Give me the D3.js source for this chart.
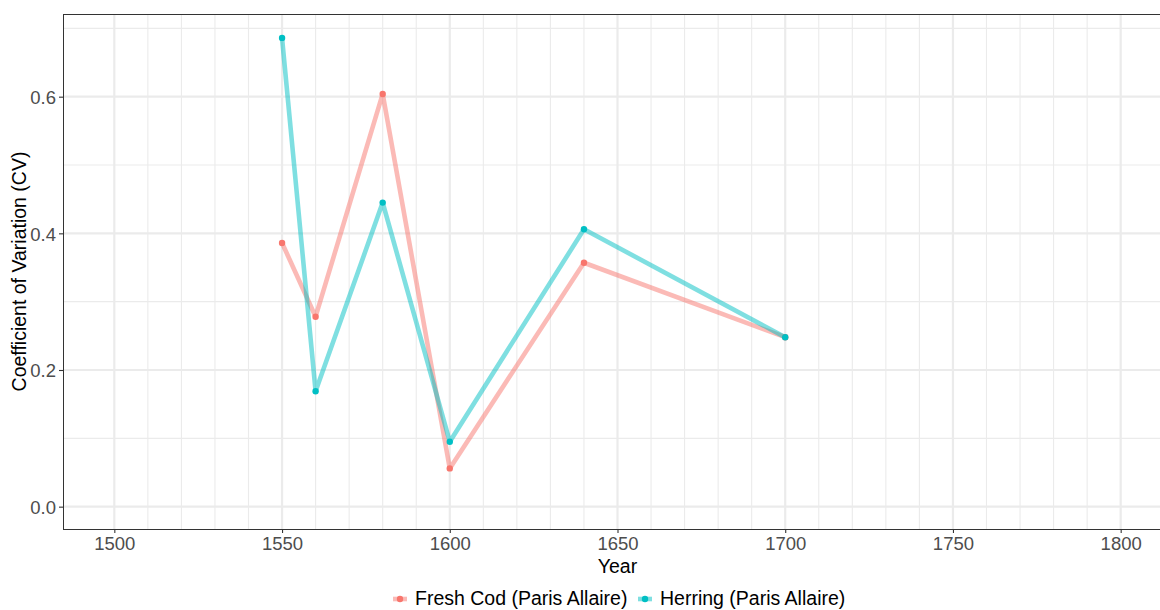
<!DOCTYPE html>
<html>
<head>
<meta charset="utf-8">
<script src="https://cdn.jsdelivr.net/npm/d3@7"></script>
<style>
html,body{margin:0;padding:0;background:#fff;overflow:hidden;}
svg{display:block;font-family:"Liberation Sans",Arial,sans-serif;}
</style>
</head>
<body>
<svg id="chart" width="1160" height="610"></svg>
<script>
const years = [1550, 1560, 1580, 1600, 1640, 1700];
const seriesNames = ["Fresh Cod (Paris Allaire)", "Herring (Paris Allaire)"];
const freshCod = [0.386, 0.278, 0.604, 0.056, 0.357, 0.248];
const herring = [0.686, 0.169, 0.445, 0.095, 0.406, 0.248];
const seriesColors = ["#F8766D", "#00BFC4"];
const xMajorTicks = [1500, 1550, 1600, 1650, 1700, 1750, 1800];
const xMinorTicks = d3.range(1510, 1800, 10).filter(v => v % 50 !== 0);
const yMajorTicks = [0.0, 0.2, 0.4, 0.6];
const yMinorTicks = [0.1, 0.3, 0.5, 0.7];

const svg = d3.select("#chart");
const L = 63, R = 1172, T = 14, B = 529;
const x = d3.scaleLinear().domain([1484.7, 1815.3]).range([L, R]);
const y = d3.scaleLinear().domain([-0.0327, 0.721]).range([B, T]);

const grid = svg.append("g");
grid.selectAll(".xmin").data(xMinorTicks).join("line")
  .attr("x1", d => x(d)).attr("x2", d => x(d)).attr("y1", T).attr("y2", B)
  .attr("stroke", "#EBEBEB").attr("stroke-width", 1.1);
grid.selectAll(".ymin").data(yMinorTicks).join("line")
  .attr("y1", d => y(d)).attr("y2", d => y(d)).attr("x1", L).attr("x2", R)
  .attr("stroke", "#EBEBEB").attr("stroke-width", 1.1);
grid.selectAll(".xmaj").data(xMajorTicks).join("line")
  .attr("x1", d => x(d)).attr("x2", d => x(d)).attr("y1", T).attr("y2", B)
  .attr("stroke", "#EBEBEB").attr("stroke-width", 2.2);
grid.selectAll(".ymaj").data(yMajorTicks).join("line")
  .attr("y1", d => y(d)).attr("y2", d => y(d)).attr("x1", L).attr("x2", R)
  .attr("stroke", "#EBEBEB").attr("stroke-width", 2.2);

const series = [freshCod, herring];
const line = d3.line().x((d, i) => x(years[i])).y(d => y(d));
series.forEach((s, k) => {
  svg.append("path").datum(s).attr("d", line)
    .attr("fill", "none").attr("stroke", seriesColors[k])
    .attr("stroke-width", 4.6).attr("stroke-opacity", 0.5)
    .attr("stroke-linejoin", "round");
});
series.forEach((s, k) => {
  svg.append("g").selectAll("circle").data(s).join("circle")
    .attr("cx", (d, i) => x(years[i])).attr("cy", d => y(d)).attr("r", 3.2)
    .attr("fill", seriesColors[k]);
});

svg.append("rect").attr("x", L + 0.5).attr("y", T + 0.5)
  .attr("width", R - L).attr("height", B - T)
  .attr("fill", "none").attr("stroke", "#333333").attr("stroke-width", 1);

// axes
const xAxis = svg.append("g").attr("transform", `translate(0,${B})`)
  .call(d3.axisBottom(x).tickValues(xMajorTicks).tickFormat(d3.format("d")).tickSize(4).tickPadding(4));
const yAxis = svg.append("g").attr("transform", `translate(${L},0)`)
  .call(d3.axisLeft(y).tickValues(yMajorTicks).tickFormat(d3.format(".1f")).tickSize(4).tickPadding(3));
[xAxis, yAxis].forEach(a => {
  a.select(".domain").remove();
  a.selectAll(".tick line").attr("stroke", "#333333").attr("stroke-width", 1.1);
  a.selectAll(".tick text").attr("fill", "#4D4D4D")
    .style("font-size", "18.5px").style("font-family", "'Liberation Sans',Arial,sans-serif");
});
yAxis.selectAll(".tick text").attr("dy", "0.36em");
xAxis.selectAll(".tick text").attr("dy", "0.71em").attr("y", 8);

svg.append("text").attr("x", (L + R) / 2).attr("y", 573).attr("text-anchor", "middle")
  .style("font-size", "19.5px").attr("fill", "#000").text("Year");
svg.append("text").attr("transform", `translate(26,${(T + B) / 2}) rotate(-90)`)
  .attr("text-anchor", "middle").style("font-size", "19.5px").attr("fill", "#000")
  .text("Coefficient of Variation (CV)");

// legend
const legendItems = [{ kx: 400, tx: 415 }, { kx: 645, tx: 660 }];
const ly = 599;
legendItems.forEach((it, k) => {
  svg.append("line").attr("x1", it.kx - 7).attr("x2", it.kx + 7).attr("y1", ly).attr("y2", ly)
    .attr("stroke", seriesColors[k]).attr("stroke-width", 4.6).attr("stroke-opacity", 0.5);
  svg.append("circle").attr("cx", it.kx).attr("cy", ly).attr("r", 3.2).attr("fill", seriesColors[k]);
  svg.append("text").attr("x", it.tx).attr("y", ly + 6).style("font-size", "19.5px")
    .attr("fill", "#000").text(seriesNames[k]);
});
</script>
</body>
</html>
